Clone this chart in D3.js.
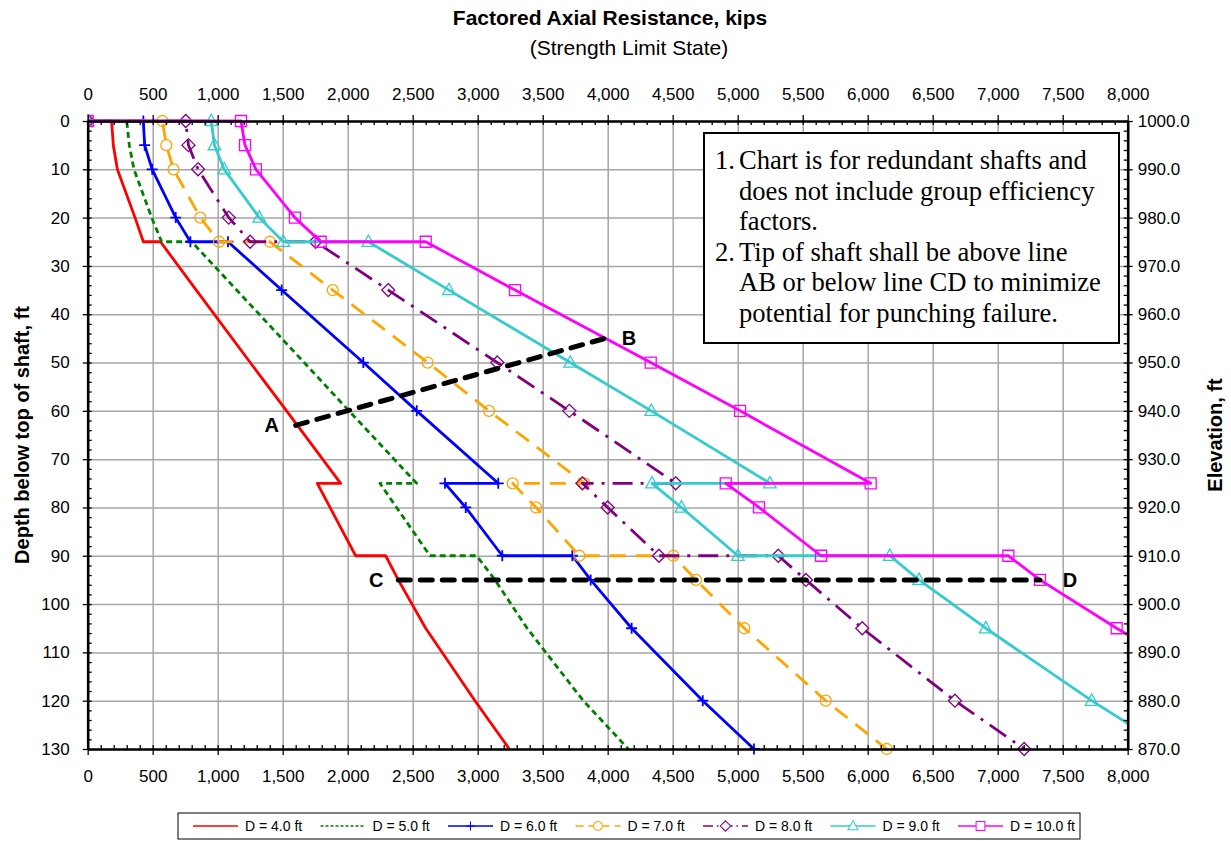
<!DOCTYPE html>
<html>
<head>
<meta charset="utf-8">
<script src="https://cdn.jsdelivr.net/npm/d3@7"></script>
<style>
  body { margin: 0; background: #fff; }
  text { font-family: "Liberation Sans", Arial, sans-serif; fill: #000; }
  .note text { font-family: "Liberation Serif", "Times New Roman", serif; }
</style>
</head>
<body>
<svg id="chart" width="1231" height="841"></svg>
<script>
// Depth below top of shaft (ft) for every tabulated point; repeated depths are the
// horizontal jumps where the shaft enters a new layer.
const depths = [0, 0, 5, 10, 20, 25, 25, 35, 50, 60, 75, 75, 80, 90, 90, 95, 105, 120, 130];

// Factored axial resistance (kips) for each shaft diameter
const resD4  = [0, 184, 197, 228, 364, 428, 560, 835, 1250, 1530, 1946, 1766, 1864, 2061, 2292, 2389, 2600, 2979, 3243];
const resD5  = [0, 300, 320, 356, 492, 569, 800, 1146, 1665, 2010, 2530, 2248, 2376, 2633, 2992, 3133, 3380, 3812, 4159];
const resD6  = [0, 428, 438, 496, 677, 790, 1079, 1492, 2120, 2531, 3158, 2748, 2908, 3189, 3728, 3869, 4184, 4731, 5125];
const resD7  = [0, 575, 605, 660, 866, 1010, 1402, 1885, 2615, 3087, 3820, 3269, 3449, 3782, 4505, 4679, 5051, 5677, 6146];
const resD8  = [0, 754, 775, 849, 1085, 1249, 1753, 2312, 3150, 3705, 4523, 3805, 4000, 4394, 5312, 5525, 5958, 6671, 7204];
const resD9  = [0, 950, 975, 1050, 1320, 1505, 2159, 2779, 3712, 4335, 5248, 4341, 4567, 5002, 6170, 6395, 6908, 7723, 8310];
const resD10 = [0, 1179, 1210, 1294, 1594, 1792, 2600, 3287, 4331, 5018, 6023, 4908, 5164, 5641, 7082, 7325, 7915, 8870, 9500];

const seriesLabels = ["D = 4.0 ft", "D = 5.0 ft", "D = 6.0 ft", "D = 7.0 ft", "D = 8.0 ft", "D = 9.0 ft", "D = 10.0 ft"];

// Punching-failure limit lines: [resistance kips, depth ft]
const lineAB = [[1600, 63], [3980, 45]];
const lineCD = [[2389, 95], [7325, 95]];
const limitLabels = ["A", "B", "C", "D"];

// Axis tick values
const xMajorTicks = d3.range(0, 8001, 500);
const xMinorTicks = d3.range(0, 8001, 100);
const yMajorTicks = d3.range(0, 131, 10);
const yMinorTicks = d3.range(0, 131, 2);
const topElevation = 1000;

const noteLines = [
  ["1.", "Chart is for redundant shafts and"],
  ["", "does not include group efficiency"],
  ["", "factors."],
  ["2.", "Tip of shaft shall be above line"],
  ["", "AB or below line CD to minimize"],
  ["", "potential for punching failure."]
];

// ---- styling per series ----
const styles = [
  { color: "#ff0000", dash: null,        marker: null },
  { color: "#008000", dash: "6,4",       marker: null },
  { color: "#0000ff", dash: null,        marker: "plus" },
  { color: "#ffa500", dash: "16,10",     marker: "circle" },
  { color: "#800080", dash: "20,8,3,8",  marker: "diamond" },
  { color: "#33cccc", dash: null,        marker: "triangle" },
  { color: "#ff00ff", dash: null,        marker: "square" }
];
const seriesValues = [resD4, resD5, resD6, resD7, resD8, resD9, resD10];

const svg = d3.select("#chart");
const pL = 87.7, pR = 1127.7, pT = 121, pB = 749;

const x = d3.scaleLinear().domain([0, 8000]).range([pL, pR]);
const y = d3.scaleLinear().domain([0, 130]).range([pT, pB]);

svg.append("rect").attr("width", 1231).attr("height", 841).attr("fill", "#fff");

// gridlines
const grid = svg.append("g").attr("class", "grid");
grid.append("g").attr("transform", `translate(0,${pB})`)
  .call(d3.axisBottom(x).tickValues(xMajorTicks).tickSize(-(pB - pT)).tickFormat(""));
grid.append("g").attr("transform", `translate(${pL},0)`)
  .call(d3.axisLeft(y).tickValues(yMajorTicks).tickSize(-(pR - pL)).tickFormat(""));
grid.selectAll(".domain").remove();
grid.selectAll("line").attr("stroke", "#a6a6a6").attr("stroke-width", 1.5);

// clip for series
svg.append("clipPath").attr("id", "plotClip")
  .append("rect").attr("x", pL).attr("y", pT - 8).attr("width", pR - pL).attr("height", pB - pT + 16);

// marker shape paths centred on (0,0)
function markerPath(type) {
  switch (type) {
    case "plus": return "M-5.5,0H5.5M0,-5.5V5.5";
    case "circle": return d3.symbol(d3.symbolCircle, 95)();
    case "diamond": return "M0,-6.5L6.5,0L0,6.5L-6.5,0Z";
    case "triangle": return "M0,-6.8L6.3,4.6H-6.3Z";
    case "square": return "M-5.5,-5.5H5.5V5.5H-5.5Z";
  }
  return null;
}

const line = d3.line().x(d => x(d[0])).y(d => y(d[1]));
const plot = svg.append("g").attr("clip-path", "url(#plotClip)");

seriesValues.forEach((vals, i) => {
  const st = styles[i];
  const pts = vals.map((v, k) => [v, depths[k]]);
  plot.append("path").datum(pts)
    .attr("d", line)
    .attr("fill", "none")
    .attr("stroke", st.color)
    .attr("stroke-width", 2.8)
    .attr("stroke-dasharray", st.dash)
    .attr("stroke-linejoin", "round");
  if (st.marker) {
    plot.append("g").selectAll("path").data(pts).join("path")
      .attr("transform", d => `translate(${x(d[0])},${y(d[1])})`)
      .attr("d", markerPath(st.marker))
      .attr("fill", "none")
      .attr("stroke", st.color)
      .attr("stroke-width", st.marker === "plus" ? 1.8 : 1.3);
  }
});

// limit lines AB and CD
[lineAB, lineCD].forEach(seg => {
  svg.append("path").datum(seg)
    .attr("d", line)
    .attr("fill", "none")
    .attr("stroke", "#000")
    .attr("stroke-width", 5)
    .attr("stroke-linecap", "round")
    .attr("stroke-dasharray", "12,10");
});
const labelPts = [
  { p: lineAB[0], dx: -24, t: limitLabels[0] },
  { p: lineAB[1], dx: 24, t: limitLabels[1] },
  { p: lineCD[0], dx: -22, t: limitLabels[2] },
  { p: lineCD[1], dx: 30, t: limitLabels[3] }
];
svg.append("g").selectAll("text").data(labelPts).join("text")
  .attr("x", d => x(d.p[0]) + d.dx)
  .attr("y", d => y(d.p[1]) + 7)
  .attr("text-anchor", "middle")
  .attr("font-size", 20)
  .attr("font-weight", "bold")
  .text(d => d.t);

// axes
const fmtX = d3.format(",");
const fmtElev = d3.format(".1f");

function styleAxis(g, fontSize) {
  g.selectAll("text").attr("font-size", fontSize).attr("font-family", "'Liberation Sans', Arial, sans-serif");
  g.selectAll("line").attr("stroke", "#000").attr("stroke-width", 1.3);
  g.select(".domain").attr("stroke", "#000").attr("stroke-width", 2.6);
}

// top
let g = svg.append("g").attr("transform", `translate(0,${pT})`)
  .call(d3.axisTop(x).tickValues(xMajorTicks).tickFormat(fmtX).tickSize(6).tickSizeOuter(0).tickPadding(15));
styleAxis(g, 17);
g = svg.append("g").attr("transform", `translate(0,${pT})`)
  .call(d3.axisBottom(x).tickValues(xMinorTicks).tickFormat("").tickSize(4).tickSizeOuter(0));
styleAxis(g, 17); g.select(".domain").remove();

// bottom
g = svg.append("g").attr("transform", `translate(0,${pB})`)
  .call(d3.axisBottom(x).tickValues(xMajorTicks).tickFormat(fmtX).tickSize(6).tickSizeOuter(0).tickPadding(15));
styleAxis(g, 17);
g = svg.append("g").attr("transform", `translate(0,${pB})`)
  .call(d3.axisTop(x).tickValues(xMinorTicks).tickFormat("").tickSize(4).tickSizeOuter(0));
styleAxis(g, 17); g.select(".domain").remove();

// left
g = svg.append("g").attr("transform", `translate(${pL},0)`)
  .call(d3.axisLeft(y).tickValues(yMajorTicks).tickSize(5).tickSizeOuter(0).tickPadding(13));
styleAxis(g, 17);
g = svg.append("g").attr("transform", `translate(${pL},0)`)
  .call(d3.axisRight(y).tickValues(yMinorTicks).tickFormat("").tickSize(4).tickSizeOuter(0));
styleAxis(g, 17); g.select(".domain").remove();

// right (elevation)
g = svg.append("g").attr("transform", `translate(${pR},0)`)
  .call(d3.axisRight(y).tickValues(yMajorTicks).tickFormat(d => fmtElev(topElevation - d)).tickSize(5).tickSizeOuter(0).tickPadding(5));
styleAxis(g, 17);
g = svg.append("g").attr("transform", `translate(${pR},0)`)
  .call(d3.axisLeft(y).tickValues(yMinorTicks).tickFormat("").tickSize(4).tickSizeOuter(0));
styleAxis(g, 17); g.select(".domain").remove();

// titles
svg.append("text").attr("x", 610).attr("y", 25).attr("text-anchor", "middle")
  .attr("font-size", 21).attr("font-weight", "bold").text("Factored Axial Resistance, kips");
svg.append("text").attr("x", 629).attr("y", 55).attr("text-anchor", "middle")
  .attr("font-size", 21).text("(Strength Limit State)");
svg.append("text").attr("transform", `translate(29,${(pT + pB) / 2}) rotate(-90)`)
  .attr("text-anchor", "middle").attr("font-size", 20).attr("font-weight", "bold")
  .text("Depth below top of shaft, ft");
svg.append("text").attr("transform", `translate(1222,${(pT + pB) / 2}) rotate(-90)`)
  .attr("text-anchor", "middle").attr("font-size", 20).attr("font-weight", "bold")
  .text("Elevation, ft");

// note box
const note = svg.append("g").attr("class", "note");
note.append("rect").attr("x", 704).attr("y", 133).attr("width", 415).attr("height", 210)
  .attr("fill", "#fff").attr("stroke", "#000").attr("stroke-width", 2);
noteLines.forEach((ln, i) => {
  const by = 169 + i * 30.5;
  if (ln[0]) note.append("text").attr("x", 715).attr("y", by).attr("font-size", 26.6).text(ln[0]);
  note.append("text").attr("x", 739).attr("y", by).attr("font-size", 26.6).text(ln[1]);
});

// legend
const legend = svg.append("g");
legend.append("rect").attr("x", 178).attr("y", 813).attr("width", 902).attr("height", 26)
  .attr("fill", "#fff").attr("stroke", "#000").attr("stroke-width", 1);
seriesLabels.forEach((lab, i) => {
  const st = styles[i];
  const x0 = 193 + i * 127.5, cy = 826;
  legend.append("line").attr("x1", x0).attr("x2", x0 + 45).attr("y1", cy).attr("y2", cy)
    .attr("stroke", st.color).attr("stroke-width", 1.5)
    .attr("stroke-dasharray", st.dash ? st.dash.split(",").map(v => Math.max(1.5, v / 2)).join(",") : null);
  if (st.marker) {
    legend.append("path").attr("transform", `translate(${x0 + 22.5},${cy}) scale(0.8)`)
      .attr("d", markerPath(st.marker)).attr("fill", "#fff").attr("stroke", st.color).attr("stroke-width", 1.3);
  }
  legend.append("text").attr("x", x0 + 52).attr("y", cy + 5).attr("font-size", 14).text(lab);
});
</script>
</body>
</html>
